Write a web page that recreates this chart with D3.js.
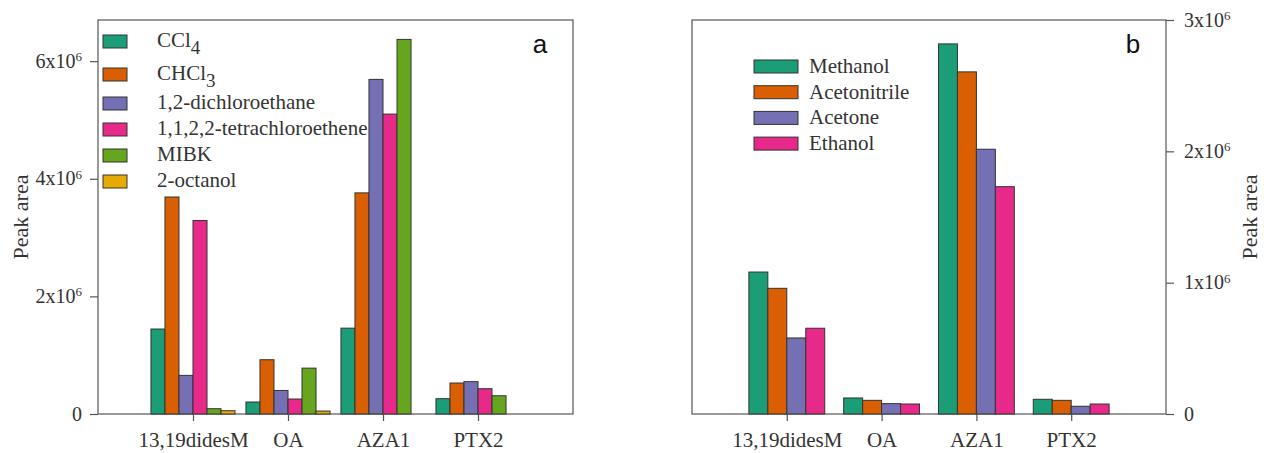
<!DOCTYPE html>
<html>
<head>
<meta charset="utf-8">
<script src="https://cdn.jsdelivr.net/npm/d3@7"></script>
<style>
  body { margin: 0; background: #fff; }
</style>
</head>
<body>
<svg id="chart" width="1264" height="453"></svg>
<script>
// categories shared by both panels
var toxins = ["13,19didesM", "OA", "AZA1", "PTX2"];

// panel a: extraction solvents
var solventsA = ["CCl4", "CHCl3", "1,2-dichloroethane", "1,1,2,2-tetrachloroethene", "MIBK", "2-octanol"];
var valuesA = [
  [1.445e6, 3.69e6, 0.657e6, 3.29e6, 0.09e6, 0.056e6],  // 13,19didesM
  [0.204e6, 0.923e6, 0.40e6, 0.255e6, 0.78e6, 0.05e6],  // OA
  [1.46e6, 3.76e6, 5.69e6, 5.10e6, 6.37e6, 0],          // AZA1
  [0.26e6, 0.527e6, 0.55e6, 0.43e6, 0.31e6, 0]           // PTX2
];
var ticksA = [0, 2e6, 4e6, 6e6];

// panel b: dispersive solvents
var solventsB = ["Methanol", "Acetonitrile", "Acetone", "Ethanol"];
var valuesB = [
  [1.081e6, 0.957e6, 0.579e6, 0.653e6],
  [0.122e6, 0.104e6, 0.079e6, 0.076e6],
  [2.818e6, 2.605e6, 2.016e6, 1.731e6],
  [0.112e6, 0.104e6, 0.059e6, 0.076e6]
];
var ticksB = [0, 1e6, 2e6, 3e6];

var colors = d3.schemeDark2;
var SERIF = "'Liberation Serif', 'Times New Roman', serif";
var svg = d3.select("#chart");

// tick label like 6x10^6
function sciLabel(sel) {
  sel.each(function(d) {
    var t = d3.select(this).text(null);
    if (d === 0) { t.text("0"); return; }
    t.append("tspan").text((d / 1e6) + "x10");
    t.append("tspan").attr("dy", "-0.5em").style("font-size", "13px").text("6");
  });
}

function panel(opt) {
  var g = svg.append("g");
  var x = d3.scaleLinear().domain([0, 5]).range([opt.left, opt.right]);
  var y = d3.scaleLinear().domain([0, opt.ymax]).range([opt.bottom, opt.top]);
  var groupW = (x(1) - x(0)) * opt.groupFrac;
  var inner = d3.scaleBand().domain(d3.range(opt.series.length)).range([-groupW / 2, groupW / 2]);

  // frame
  g.append("rect")
    .attr("x", opt.left).attr("y", opt.top)
    .attr("width", opt.right - opt.left).attr("height", opt.bottom - opt.top)
    .attr("fill", "none").attr("stroke", "#555").attr("stroke-width", 1.2);

  // bars
  opt.values.forEach(function(row, i) {
    g.selectAll(null)
      .data(row.map(function(v, j) { return {v: v, j: j}; }).filter(function(d) { return d.v > 0; }))
      .enter().append("rect")
      .attr("x", function(d) { return x(i + 1) + inner(d.j); })
      .attr("y", function(d) { return y(d.v); })
      .attr("width", inner.bandwidth())
      .attr("height", function(d) { return y(0) - y(d.v); })
      .attr("fill", function(d) { return colors[d.j]; })
      .attr("stroke", "#333").attr("stroke-width", 1);
  });

  // x axis
  var xAxis = d3.axisBottom(x).tickValues([1, 2, 3, 4])
    .tickFormat(function(d) { return toxins[d - 1]; })
    .tickSize(7).tickSizeOuter(0).tickPadding(11);
  var xg = g.append("g").attr("transform", "translate(0," + opt.bottom + ")").call(xAxis);
  xg.select(".domain").remove();
  xg.selectAll("line").attr("stroke", "#555").attr("stroke-width", 1.2);
  xg.selectAll("text").style("font-size", "21px").style("font-family", SERIF).style("fill", "#333");

  // y axis
  var yAxis = (opt.side === "left" ? d3.axisLeft(y) : d3.axisRight(y))
    .tickValues(opt.ticks).tickSize(8).tickSizeOuter(0).tickPadding(opt.side === "left" ? 8 : 10);
  var yg = g.append("g")
    .attr("transform", "translate(" + (opt.side === "left" ? opt.left : opt.right) + ",0)")
    .call(yAxis);
  yg.select(".domain").remove();
  yg.selectAll("line").attr("stroke", "#555").attr("stroke-width", 1.2);
  yg.selectAll("text").style("font-size", "20px").style("font-family", SERIF).style("fill", "#333")
    .attr("dy", "0.3em").call(sciLabel);

  // y title
  g.append("text")
    .attr("transform", "translate(" + opt.titleX + "," + ((opt.top + opt.bottom) / 2) + ") rotate(-90)")
    .attr("text-anchor", "middle")
    .style("font-size", "22px").style("font-family", SERIF).style("fill", "#333")
    .text("Peak area");

  // panel letter
  g.append("text")
    .attr("x", opt.right - 33).attr("y", 53)
    .attr("text-anchor", "middle")
    .style("font-family", "'Liberation Sans', Arial, sans-serif")
    .style("font-size", "26px").style("fill", "#111")
    .text(opt.letter);

  return g;
}

var gA = panel({left: 98, right: 573, top: 20, bottom: 414, ymax: 6.7e6, ticks: ticksA,
  values: valuesA, series: solventsA, groupFrac: 0.885, side: "left", titleX: 28, letter: "a"});
var gB = panel({left: 692, right: 1166, top: 20, bottom: 414, ymax: 3e6, ticks: ticksB,
  values: valuesB, series: solventsB, groupFrac: 0.8, side: "right", titleX: 1257, letter: "b"});

// legend a (chemical formulas have subscripts)
var legA = gA.append("g");
solventsA.forEach(function(name, i) {
  var top = 35 + 26 * i + (i >= 1 ? 7 : 0) + (i >= 2 ? 3 : 0);
  legA.append("rect").attr("x", 103).attr("y", top).attr("width", 24).attr("height", 13)
    .attr("fill", colors[i]).attr("stroke", "#333").attr("stroke-width", 1);
  var t = legA.append("text").attr("x", 157).attr("y", top + 12)
    .style("font-size", "21px").style("font-family", SERIF).style("fill", "#333");
  var m = name.match(/^(C[A-Za-z]*l)(\d)$/);
  if (m) {
    t.append("tspan").text(m[1]);
    t.append("tspan").attr("dy", "7").style("font-size", "19px").text(m[2]);
  } else {
    t.text(name);
  }
});

// legend b
var legB = gB.append("g");
solventsB.forEach(function(name, i) {
  var top = 60 + 25.7 * i;
  legB.append("rect").attr("x", 754).attr("y", top).attr("width", 44).attr("height", 13)
    .attr("fill", colors[i]).attr("stroke", "#333").attr("stroke-width", 1);
  legB.append("text").attr("x", 809).attr("y", top + 13)
    .style("font-size", "21px").style("font-family", SERIF).style("fill", "#333")
    .text(name);
});
</script>
</body>
</html>
